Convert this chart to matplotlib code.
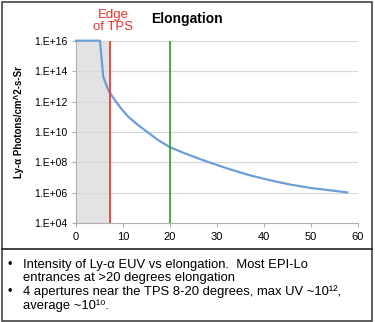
import matplotlib
matplotlib.use("Agg")
import matplotlib.pyplot as plt
from matplotlib.patches import Rectangle
from matplotlib.lines import Line2D

plt.rcParams['font.family'] = ['Liberation Sans', 'DejaVu Sans']

# data
elongation = [0, 5.1, 5.8, 6.9, 8.3, 9.7, 11.2, 13.3, 15.4, 17.5, 20, 23.2, 26.8,
              28.6, 32.8, 37.1, 41.4, 45.6, 49.9, 54.2, 57.7]
intensity = [1e16, 1e16, 4.2e13, 5.4e12, 1.2e12, 3.2e11, 9.5e10, 2.7e10, 8.9e9, 2.9e9,
             1.0e9, 3.9e8, 1.5e8, 9.5e7, 3.5e7, 1.4e7, 6.6e6, 3.5e6, 2.1e6, 1.45e6, 1.07e6]
tps_edge = 7.2
elong_mark = 20
yticks = [1e4, 1e6, 1e8, 1e10, 1e12, 1e14, 1e16]
ytick_labels = ['1.E+04', '1.E+06', '1.E+08', '1.E+10', '1.E+12', '1.E+14', '1.E+16']
xticks = [0, 10, 20, 30, 40, 50, 60]
notes = [
    ('Intensity of Ly-\u03b1 EUV vs elongation.  Most EPI-Lo', True),
    ('entrances at >20 degrees elongation', False),
    ('4 apertures near the TPS 8-20 degrees, max UV ~10\u00b9\u00b2,', True),
    ('average ~10\u00b9\u2070.', False),
]

W, H = 375, 322
fig = plt.figure(figsize=(3.75, 3.22), dpi=100)
ax = fig.add_axes([76 / W, 1 - 223.3 / H, 282 / W, 182.6 / H])

# shaded region inside the TPS
ax.axvspan(0, tps_edge, color='#e3e3e3', zorder=0)
ax.plot(elongation, intensity, color='#6b9fd6', lw=1.6, zorder=3, clip_on=False)
ax.axvline(tps_edge, color='#e8332a', lw=1.2, zorder=4)
ax.axvline(elong_mark, color='#2a9a2a', lw=1.2, zorder=4)

ax.set_yscale('log')
ax.set_ylim(1e4, 1e16)
ax.set_xlim(0, 60)
ax.set_yticks(yticks)
ax.set_yticklabels(ytick_labels)
ax.minorticks_off()
ax.set_xticks(xticks)
ax.tick_params(axis='both', labelsize=7.5, color='#b0b0b0', length=3, width=0.8, pad=3)
ax.tick_params(axis='x', labelsize=8)
ax.grid(axis='y', color='#d9d9d9', lw=0.9)
ax.set_axisbelow(True)
for s in ['top', 'right']:
    ax.spines[s].set_visible(False)
for s in ['left', 'bottom']:
    ax.spines[s].set_color('#b0b0b0')
    ax.spines[s].set_linewidth(0.8)

fig.text(19 / W, 1 - 122 / H, 'Ly-\u03b1 Photons/cm^2-s-Sr', rotation=90, fontsize=7,
         fontweight='bold', ha='center', va='center')
fig.text(113 / W, 1 - 21 / H, 'Edge\nof TPS', color='#e8332a', fontsize=9.5,
         ha='center', va='center', linespacing=1.05)
fig.text(187 / W, 1 - 19.5 / H, 'Elongation', fontsize=10, fontweight='bold',
         ha='center', va='center')

# borders around chart and notes
fig.add_artist(Rectangle((1.5 / W, 1.5 / H), 370.5 / W, 318.5 / H, transform=fig.transFigure,
                         fill=False, ec='#444444', lw=1.2))
fig.add_artist(Line2D([1.5 / W, 372 / W], [1 - 249 / H, 1 - 249 / H], transform=fig.transFigure,
                      color='#222222', lw=1.2))

for i, (line, bullet) in enumerate(notes):
    y = 1 - (268 + 13.5 * i) / H
    if bullet:
        fig.text(10 / W, y, '\u2022', fontsize=9, ha='center', va='baseline')
    fig.text(23 / W, y, line, fontsize=9.4, ha='left', va='baseline')

fig.savefig('out.png', dpi=100)
